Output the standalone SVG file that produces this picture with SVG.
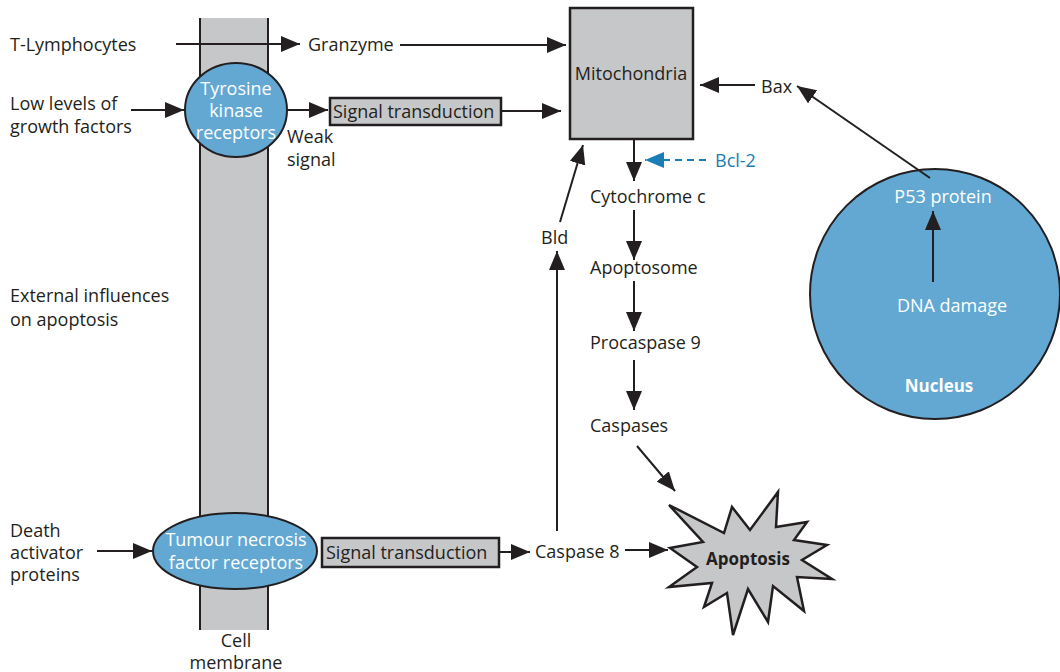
<svg xmlns="http://www.w3.org/2000/svg" width="1060" height="672" viewBox="0 0 1060 672">
<style>
text{font-family:"Open Sans","Noto Sans","Liberation Sans",sans-serif;font-size:18px;fill:#231f20}
.w{fill:#ffffff}
.b{font-weight:bold;font-size:17px}
.c{text-anchor:middle}
.blue{fill:#1a7db5}
.gray{fill:#c6c7c9;stroke:#231f20;stroke-width:2.5}
.cell{fill:#62a8d2;stroke:#231f20;stroke-width:2}
.ln{fill:none;stroke:#231f20;stroke-width:2;marker-end:url(#ah)}
.dash{fill:none;stroke:#1a7db5;stroke-width:2;stroke-dasharray:7,5;marker-end:url(#ahb)}
</style>
<defs>
<marker id="ah" markerUnits="userSpaceOnUse" markerWidth="19" markerHeight="16" refX="19" refY="8" orient="auto">
<path d="M0,0 L19,8 L0,16 z" fill="#231f20"/>
</marker>
<marker id="ahb" markerUnits="userSpaceOnUse" markerWidth="19" markerHeight="16" refX="19" refY="8" orient="auto">
<path d="M0,0 L19,8 L0,16 z" fill="#1a7db5"/>
</marker>
</defs>

<g id="membrane">
<rect x="200" y="18" width="68" height="612" fill="#c6c7c9" stroke="none"/>
<line x1="200" y1="18" x2="200" y2="630" stroke="#231f20" stroke-width="2"/>
<line x1="268" y1="18" x2="268" y2="630" stroke="#231f20" stroke-width="2"/>
<text x="236" y="647" class="c">Cell</text>
<text x="236" y="669" class="c">membrane</text>
</g>

<g id="t-lymphocytes"><text x="10" y="51">T-Lymphocytes</text></g>
<g id="granzyme"><text x="308" y="51">Granzyme</text></g>
<g id="growth-factors"><text x="10" y="110">Low levels of</text><text x="10" y="133">growth factors</text></g>
<g id="external"><text x="10" y="302">External influences</text><text x="10" y="326">on apoptosis</text></g>
<g id="death-activators"><text x="10" y="537">Death</text><text x="10" y="559">activator</text><text x="10" y="581">proteins</text></g>

<g id="tyrosine-kinase">
<ellipse cx="236" cy="110" rx="51" ry="47" class="cell"/>
<text x="236" y="95" class="w c">Tyrosine</text>
<text x="236" y="117" class="w c">kinase</text>
<text x="236" y="139" class="w c">receptors</text>
</g>
<g id="weak-signal"><text x="287" y="143">Weak</text><text x="287" y="166">signal</text></g>

<g id="signal-transduction-1">
<rect x="330" y="98" width="171" height="27" class="gray"/>
<text x="333" y="118">Signal transduction</text>
</g>

<g id="tnf-receptors">
<ellipse cx="235" cy="551" rx="82" ry="38" class="cell"/>
<text x="236" y="546" class="w c">Tumour necrosis</text>
<text x="236" y="569" class="w c">factor receptors</text>
</g>

<g id="signal-transduction-2">
<rect x="322" y="538" width="177" height="29" class="gray"/>
<text x="326" y="559">Signal transduction</text>
</g>

<g id="caspase8"><text x="535" y="558">Caspase 8</text></g>
<g id="bld"><text x="541" y="244">Bld</text></g>

<g id="mitochondria">
<rect x="570" y="8" width="123" height="131" class="gray"/>
<text x="631" y="80" class="c">Mitochondria</text>
</g>

<g id="bax"><text x="761" y="93">Bax</text></g>
<g id="bcl2"><text x="715" y="167" class="blue">Bcl-2</text></g>
<g id="cytochrome"><text x="590" y="203">Cytochrome c</text></g>
<g id="apoptosome"><text x="590" y="274">Apoptosome</text></g>
<g id="procaspase9"><text x="590" y="349">Procaspase 9</text></g>
<g id="caspases"><text x="590" y="432">Caspases</text></g>

<g id="nucleus">
<circle cx="935" cy="294" r="125" class="cell"/>
<text x="943" y="203" class="w c">P53 protein</text>
<text x="952" y="312" class="w c">DNA damage</text>
<text x="939" y="392" class="w c b">Nucleus</text>
</g>

<g id="apoptosis">
<polygon points="669,505 724,533 732,507 750,530 778,492 776,527 807,522 794,540 827,545 802,560 832,579 797,577 804,611 773,586 768,622 748,589 733,635 727,593 704,607 712,583 669,587 697,567 670,548 703,542" class="gray"/>
<text x="748" y="565" class="c b">Apoptosis</text>
</g>

<g id="connectors">
<line x1="176" y1="44" x2="300" y2="44" class="ln"/>
<line x1="400" y1="45" x2="566" y2="45" class="ln"/>
<line x1="131" y1="110" x2="184" y2="110" class="ln"/>
<line x1="287" y1="110" x2="328" y2="110" class="ln"/>
<line x1="501" y1="111" x2="561" y2="111" class="ln"/>
<line x1="755" y1="85" x2="700" y2="85" class="ln"/>
<line x1="930" y1="178" x2="797" y2="86" class="ln"/>
<line x1="706" y1="160" x2="645" y2="160" class="dash"/>
<line x1="634" y1="139" x2="634" y2="181" class="ln"/>
<line x1="634" y1="210" x2="634" y2="260" class="ln"/>
<line x1="634" y1="281" x2="634" y2="331" class="ln"/>
<line x1="634" y1="360" x2="634" y2="410" class="ln"/>
<line x1="637" y1="446" x2="675" y2="491" class="ln"/>
<line x1="560" y1="222" x2="583" y2="145" class="ln"/>
<line x1="557" y1="531" x2="557" y2="251" class="ln"/>
<line x1="499" y1="552" x2="530" y2="552" class="ln"/>
<line x1="625" y1="550" x2="668" y2="550" class="ln"/>
<line x1="97" y1="551" x2="152" y2="551" class="ln"/>
<line x1="933" y1="282" x2="933" y2="211" class="ln"/>
</g>
</svg>
